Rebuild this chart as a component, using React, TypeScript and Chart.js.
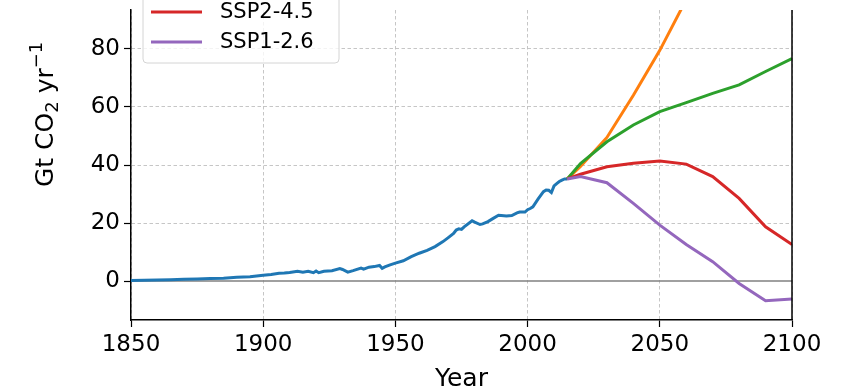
import React, { useEffect, useRef } from "react";
import { Chart, registerables } from "chart.js";

Chart.register(...registerables);

// ---- data ----
const histYears = [1850, 1855, 1860, 1865, 1870, 1875, 1880, 1885, 1890, 1895, 1900, 1903, 1906, 1908, 1910, 1913, 1915, 1917, 1919, 1920, 1921, 1923, 1926, 1929, 1930, 1932, 1934, 1937, 1938, 1940, 1942, 1944, 1945, 1946, 1948, 1950, 1953, 1956, 1959, 1962, 1965, 1968, 1970, 1972, 1973, 1974, 1975, 1976, 1979, 1980, 1982, 1983, 1985, 1987, 1989, 1990, 1992, 1994, 1996, 1997, 1999, 2000, 2001, 2002, 2004, 2006, 2007, 2008, 2009, 2010, 2011, 2012, 2013, 2014, 2015];
const histValues = [0.2, 0.3, 0.35, 0.5, 0.6, 0.7, 0.9, 1.0, 1.3, 1.5, 2.0, 2.3, 2.7, 2.8, 3.0, 3.4, 3.1, 3.4, 2.9, 3.5, 2.9, 3.4, 3.6, 4.3, 4.0, 3.1, 3.6, 4.5, 4.1, 4.8, 5.0, 5.4, 4.4, 4.9, 5.6, 6.2, 7.0, 8.4, 9.6, 10.6, 11.9, 13.6, 15.0, 16.4, 17.6, 18.0, 17.8, 18.7, 20.8, 20.3, 19.5, 19.7, 20.5, 21.6, 22.7, 22.6, 22.4, 22.6, 23.5, 23.8, 23.8, 24.6, 25.0, 25.6, 28.3, 30.8, 31.4, 31.3, 30.5, 32.8, 33.6, 34.3, 34.8, 35.2, 35.2];

const scenYears = [2015, 2020, 2030, 2040, 2050, 2060, 2070, 2080, 2090, 2100];
const ssp585 = [35.2, 39.5, 49.5, 64, 79.5, 97, 113, 126, 128, 125];
const ssp370 = [35.2, 40.5, 48, 53.8, 58.4, 61.5, 64.7, 67.6, 72.2, 76.7];
const ssp245 = [35.2, 36.8, 39.4, 40.6, 41.4, 40.3, 36, 28.5, 18.7, 12.6];
const ssp126 = [35.2, 36.0, 33.9, 26.8, 19.3, 12.6, 6.7, -0.8, -6.8, -6.2];

const seriesLabels = ["Historical", "SSP5-8.5", "SSP3-7.0", "SSP2-4.5", "SSP1-2.6"];
const seriesColors = ["#1f77b4", "#ff7f0e", "#2ca02c", "#d62728", "#9467bd"];

const xTicks = [1850, 1900, 1950, 2000, 2050, 2100];
const yTicks = [0, 20, 40, 60, 80];
const xMin = 1850;
const xMax = 2100;
const yMin = -13.4;
const yMax = 93.4;

const FONT = "'DejaVu Sans', sans-serif";

const toPts = (xs: number[], ys: number[]) => xs.map((x, i) => ({ x, y: ys[i] }));

const decorPlugin = {
  id: "decor",
  beforeDatasetsDraw(chart: any) {
    const { ctx, chartArea, scales } = chart;
    const y0 = scales.y.getPixelForValue(0);
    ctx.save();
    ctx.strokeStyle = "#808080";
    ctx.lineWidth = 1.5;
    ctx.beginPath();
    ctx.moveTo(chartArea.left, y0);
    ctx.lineTo(chartArea.right, y0);
    ctx.stroke();
    ctx.restore();
  },
  afterDraw(chart: any) {
    const { ctx, chartArea } = chart;
    ctx.save();
    // right spine
    ctx.strokeStyle = "#000";
    ctx.lineWidth = 1.5;
    ctx.beginPath();
    ctx.moveTo(chartArea.right, chartArea.top);
    ctx.lineTo(chartArea.right, chartArea.bottom);
    ctx.stroke();

    // legend
    const boxL = 143, boxR = 339, boxB = 63;
    const spacing = 30;
    const n = seriesLabels.length;
    const lastY = 42;
    const boxT = lastY - (n - 1) * spacing - 22;
    const r = 4;
    ctx.beginPath();
    ctx.moveTo(boxL + r, boxT);
    ctx.lineTo(boxR - r, boxT);
    ctx.quadraticCurveTo(boxR, boxT, boxR, boxT + r);
    ctx.lineTo(boxR, boxB - r);
    ctx.quadraticCurveTo(boxR, boxB, boxR - r, boxB);
    ctx.lineTo(boxL + r, boxB);
    ctx.quadraticCurveTo(boxL, boxB, boxL, boxB - r);
    ctx.lineTo(boxL, boxT + r);
    ctx.quadraticCurveTo(boxL, boxT, boxL + r, boxT);
    ctx.closePath();
    ctx.fillStyle = "rgba(255,255,255,0.8)";
    ctx.fill();
    ctx.strokeStyle = "#d4d4d4";
    ctx.lineWidth = 1;
    ctx.stroke();
    ctx.font = `21px ${FONT}`;
    ctx.textBaseline = "middle";
    ctx.textAlign = "left";
    for (let i = 0; i < n; i++) {
      const y = lastY - (n - 1 - i) * spacing;
      ctx.strokeStyle = seriesColors[i];
      ctx.lineWidth = 3;
      ctx.beginPath();
      ctx.moveTo(151, y);
      ctx.lineTo(202, y);
      ctx.stroke();
      ctx.fillStyle = "#000";
      ctx.fillText(seriesLabels[i], 220, y + 1);
    }

    // x axis title
    ctx.font = `25px ${FONT}`;
    ctx.textAlign = "center";
    ctx.textBaseline = "alphabetic";
    ctx.fillStyle = "#000";
    ctx.fillText("Year", (chartArea.left + chartArea.right) / 2, 386);

    // y axis title with sub/superscript
    ctx.translate(53, 187);
    ctx.rotate(-Math.PI / 2);
    ctx.textAlign = "left";
    let x = 0;
    const big = `25px ${FONT}`;
    const small = `18px ${FONT}`;
    ctx.font = big;
    ctx.fillText("Gt CO", x, 0);
    x += ctx.measureText("Gt CO").width;
    ctx.font = small;
    ctx.fillText("2", x, 5);
    x += ctx.measureText("2").width;
    ctx.font = big;
    ctx.fillText(" yr", x, 0);
    x += ctx.measureText(" yr").width;
    ctx.font = small;
    ctx.fillText("\u22121", x, -11);
    ctx.restore();
  },
};

const zeroPad = (s: any) => {
  s.paddingTop = 0;
  s.paddingBottom = 0;
  s.paddingLeft = 0;
  s.paddingRight = 0;
};

export default function App() {
  const ref = useRef<HTMLCanvasElement>(null);
  useEffect(() => {
    if (!ref.current) return;
    const datasets: any[] = [
      { label: seriesLabels[0], data: toPts(histYears, histValues), order: 5 },
      { label: seriesLabels[1], data: toPts(scenYears, ssp585), order: 4 },
      { label: seriesLabels[2], data: toPts(scenYears, ssp370), order: 3 },
      { label: seriesLabels[3], data: toPts(scenYears, ssp245), order: 2 },
      { label: seriesLabels[4], data: toPts(scenYears, ssp126), order: 1 },
    ].map((d, i) => ({
      ...d,
      borderColor: seriesColors[i],
      backgroundColor: seriesColors[i],
      borderWidth: 3,
      pointRadius: 0,
      tension: 0,
      fill: false,
    }));
    const chart = new Chart(ref.current, {
      type: "line",
      data: { datasets },
      plugins: [decorPlugin],
      options: {
        animation: false,
        responsive: false,
        layout: { padding: { top: 10, right: 54, left: 0, bottom: 0 } },
        plugins: { legend: { display: false }, tooltip: { enabled: false } },
        scales: {
          x: {
            type: "linear",
            min: xMin,
            max: xMax,
            afterBuildTicks: (s: any) => {
              s.ticks = xTicks.map((v) => ({ value: v }));
            },
            afterFit: (s: any) => {
              s.height = 70;
              zeroPad(s);
            },
            grid: { color: "#b8b8b8", lineWidth: 0.8, tickColor: "#000", tickLength: 7, tickWidth: 1.2 },
            border: { display: true, color: "#000", width: 1.5, dash: [3.5, 2.5] },
            ticks: { color: "#000", font: { family: FONT, size: 23 }, padding: 4, maxRotation: 0, callback: (v: any) => String(v) },
          },
          y: {
            type: "linear",
            min: yMin,
            max: yMax,
            afterBuildTicks: (s: any) => {
              s.ticks = yTicks.map((v) => ({ value: v }));
            },
            afterFit: (s: any) => {
              s.width = 131;
              zeroPad(s);
            },
            grid: {
              color: (c: any) => (c.tick && c.tick.value === 0 ? "rgba(0,0,0,0)" : "#b8b8b8"),
              lineWidth: 0.8,
              tickColor: "#000",
              tickLength: 7,
              tickWidth: 1.2,
            },
            border: { display: true, color: "#000", width: 1.5, dash: [3.5, 2.5] },
            ticks: { color: "#000", font: { family: FONT, size: 23 }, padding: 4, callback: (v: any) => String(v) },
          },
        },
      },
    });
    return () => chart.destroy();
  }, []);
  return (
    <div style={{ position: "fixed", left: 0, top: 0, width: 846, height: 390, background: "#fff" }}>
      <canvas ref={ref} width={846} height={390} style={{ width: 846, height: 390, display: "block" }} />
    </div>
  );
}
